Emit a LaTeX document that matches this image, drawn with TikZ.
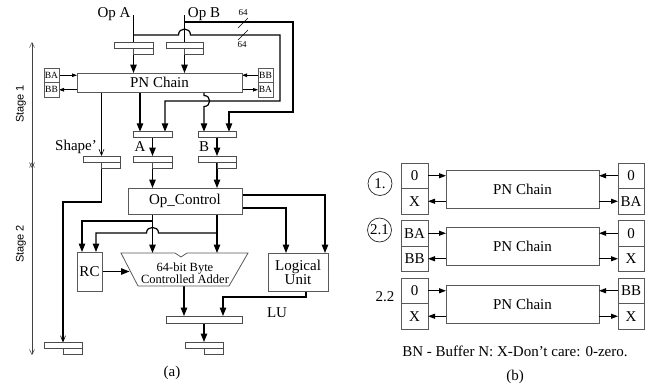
\documentclass[tikz,border=0pt]{standalone}
\usepackage{fontspec}
\setmainfont{Liberation Serif}
\newfontfamily\stagefont{Liberation Sans}
\usetikzlibrary{arrows.meta,backgrounds}
\tikzset{
  every node/.style={font=\fontsize{15}{17}\selectfont, inner sep=0pt, outer sep=0pt},
  boxst/.style={draw=gray!70!black, line width=0.8pt, fill=white},
  bufst/.style={draw=gray!60!black, line width=0.7pt, fill=white},
  conn/.style={line width=1.2pt},
  arr/.style={conn, -{Triangle[length=8.5pt,width=6.5pt]}},
  sarr/.style={line width=0.8pt, -{Triangle[length=5pt,width=3.5pt]}},
  barr/.style={line width=1.1pt, -{Triangle[length=7pt,width=5pt]}},
  vtip/.style={-{Straight Barb[length=6pt,width=5pt,line width=0.6pt]}},
  stagest/.style={draw=gray!50!black, line width=0.5pt, {Straight Barb[length=5pt,width=5pt]}-{Straight Barb[length=5pt,width=5pt]}},
  smallt/.style={font=\fontsize{9.5}{11}\selectfont},
  tinyt/.style={font=\fontsize{9}{10}\selectfont},
}
\newcommand\mkbox[7][]{\node[boxst,anchor=north west,minimum width=#5,minimum height=#6,#1] (#2) at (#3,#4) {#7};}
\newcommand\mkbar[5]{\node[bufst,minimum width=#4,minimum height=#5] (#1) at (#2,#3) {};}
\newcommand\mkbuf[4]{\node[bufst,minimum width=#4,minimum height=6] (#1) at (#2,#3+3) {};\draw[bufst] (#1.south) rectangle (#1.south east |- 0,#3+12);}
\begin{document}
\begin{tikzpicture}[x=1pt,y=-1pt]
\useasboundingbox (0,0) rectangle (655,384);

% ---------------- panel (a): nodes ----------------
\node[anchor=base] (opAt) at (114,17) {Op A};
\node[anchor=base] (opBt) at (204,17) {Op B};
\coordinate (opA) at (133.5,15);
\coordinate (opB) at (184.5,15);
\coordinate (jA) at (133.5,35);
\coordinate (jB) at (184.5,22);
\node[tinyt] (n64a) at (243,13) {64};
\node[tinyt] (n64b) at (242,45) {64};

\mkbuf{bOA}{133.5}{42}{39}
\mkbuf{bOB}{184.5}{42}{37}

\mkbox{chain}{77}{73}{165}{19}{PN Chain}
\mkbox[smallt]{lBA}{44}{68}{15}{14.5}{BA}
\mkbox[smallt]{lBB}{44}{82.5}{15}{14.5}{BB}
\mkbox[smallt]{rBB}{258}{68}{15}{14.5}{BB}
\mkbox[smallt]{rBA}{258}{82.5}{15}{14.5}{BA}

\mkbar{bA}{152.5}{134.5}{39}{5.5}
\mkbar{bB}{217}{134.5}{38}{5.5}
\node[anchor=base] (lblA) at (140,151) {A};
\node[anchor=base] (lblB) at (204,151) {B};
\node[anchor=base] (lblS) at (76,150.5) {Shape’};
\mkbuf{bS}{101.5}{156}{37}
\mkbuf{bA2}{152.5}{156}{39}
\mkbuf{bB2}{217}{156}{38}

\mkbox{opc}{128}{188}{114}{26}{Op\_Control}
\mkbox[align=center,font=\fontsize{15}{13}\selectfont]{lu}{268}{253}{60}{38}{Logical\\Unit}
\mkbox{rc}{77}{252}{25}{39}{RC}

\draw[boxst] (121,253) -- (175,253) -- (181,257) -- (187,253) -- (248,253) -- (229,286) -- (138,286) -- cycle;
\node[align=center,font=\fontsize{12.5}{12.5}\selectfont] (adder) at (185,273) {64-bit Byte\\Controlled Adder};
\coordinate (addtop) at (184.5,253);
\coordinate (addin) at (129.5,271.5);
\coordinate (addbot) at (184,286);

\mkbar{bO}{204}{319.5}{76}{7}
\node[anchor=base] (lblLU) at (277,317) {LU};
\mkbuf{bF}{204}{342}{38}
\mkbuf{bL}{63}{342.5}{38}

\node[rotate=90,font=\stagefont\fontsize{11}{12}\selectfont] (st1) at (21,104) {Stage 1};
\node[rotate=90,font=\stagefont\fontsize{11}{12}\selectfont] (st2) at (21,244) {Stage 2};
\coordinate (s1a) at (32,42);
\coordinate (s1b) at (32,168);
\coordinate (s2a) at (32,162);
\coordinate (s2b) at (32,355);
\node (capa) at (172,373) {(a)};

% ---------------- panel (a): connectors ----------------
\begin{pgfonlayer}{background}
\draw[arr] (opA) -- (opA |- chain.north);
\draw[arr] (opB) -- (opB |- chain.north);
\draw[arr] (jA) -- (178.5,35) .. controls (178.5,27) and (190.5,27) .. (190.5,35)
  -- (280,35) -- (280,101) -- (165,101) -- (165,101 |- bA.north);
\draw[arr] (jB) -- (293,22) -- (293,112) -- (229,112) -- (229,112 |- bB.north);
\draw[line width=0.6pt] (238,28) -- (248,18);
\draw[line width=0.6pt] (238,40) -- (248,30);

\draw[sarr] (lBA.east) -- (lBA.east -| chain.west);
\draw[sarr] (lBB.east -| chain.west) -- (lBB.east);
\draw[sarr] (rBB.west) -- (rBB.west -| chain.east);
\draw[sarr] (rBA.west -| chain.east) -- (rBA.west);

\draw[arr] (140,0 |- chain.south) -- (140,0 |- bA.north);
\draw[arr] (204,0 |- chain.south) -- (204,95.5) .. controls (211.5,95.5) and (211.5,106.5) .. (204,106.5) -- (204,0 |- bB.north);
\draw[line width=0.7pt, vtip] (bS.north |- chain.south) -- (bS.north);

\draw[arr] (bA.south) -- (bA2.north);
\draw[arr] (bB.south) -- (bB2.north);
\draw[arr] (bA2.south) -- (bA2.south |- opc.north);
\draw[arr] (bB2.south) -- (bB2.south |- opc.north);

\draw[conn, vtip] (bS.south) -- (101.5,202) -- (63,202) -- (bL.north);

\draw[arr] (opc.east |- 0,195) -- (325,195) -- (325,0 |- lu.north);
\draw[arr] (opc.east |- 0,208) -- (286,208) -- (286,0 |- lu.north);
\draw[arr] (152.5,0 |- opc.south) -- (152.5,0 |- addtop);
\draw[arr] (217,0 |- opc.south) -- (217,0 |- addtop);
\draw[arr] (152.5,221) -- (82,221) -- (82,0 |- rc.north);
\draw[arr] (217,233) -- (158.5,233) .. controls (158.5,225.5) and (146.5,225.5) .. (146.5,233) -- (96,233) -- (96,0 |- rc.north);
\draw[arr] (rc.east) -- (addin);

\draw[arr] (addbot) -- (addbot |- bO.north);
\draw[arr] (306,0 |- lu.south) -- (306,297) -- (223,297) -- (223,0 |- bO.north);
\draw[arr] (bO.south) -- (bF.north);

\draw[stagest] (s1a) -- (s1b);
\draw[stagest] (s2a) -- (s2b);
\end{pgfonlayer}

% ---------------- panel (b) ----------------
\foreach \r/\T/\la/\lb/\ra/\rb in {1/163/0/X/0/BA, 2/220.5/BA/BB/0/X, 3/278/0/X/BB/X} {
  \node[boxst,anchor=north west,minimum width=27,minimum height=25.5] (Lt\r) at (401,\T) {\la};
  \node[boxst,anchor=north west,minimum width=27,minimum height=25.5] (Lb\r) at (401,\T+25.5) {\lb};
  \node[boxst,anchor=north west,minimum width=26,minimum height=25.5] (Rt\r) at (618,\T) {\ra};
  \node[boxst,anchor=north west,minimum width=26,minimum height=25.5] (Rb\r) at (618,\T+25.5) {\rb};
  \node[boxst,anchor=north west,minimum width=153,minimum height=38] (C\r) at (446,\T+7) {PN Chain};
  \draw[barr] (Lt\r.east) -- (Lt\r.east -| C\r.west);
  \draw[barr] (C\r.west |- Lb\r.east) -- (Lb\r.east);
  \draw[barr] (Rt\r.west) -- (Rt\r.west -| C\r.east);
  \draw[barr] (C\r.east |- Rb\r.west) -- (Rb\r.west);
}
\node[draw=gray!30!black,line width=0.7pt,circle,minimum size=24] (c1) at (380,183.5) {1.};
\node[draw=gray!30!black,line width=0.7pt,circle,minimum size=24] (c2) at (379.5,230) {2.1};
\node (c3) at (385,297) {2.2};
\node (capt) at (515,351) {BN - Buffer N: X-Don’t care: 0-zero.};
\node (capb) at (515,377) {(b)};
\end{tikzpicture}
\end{document}
